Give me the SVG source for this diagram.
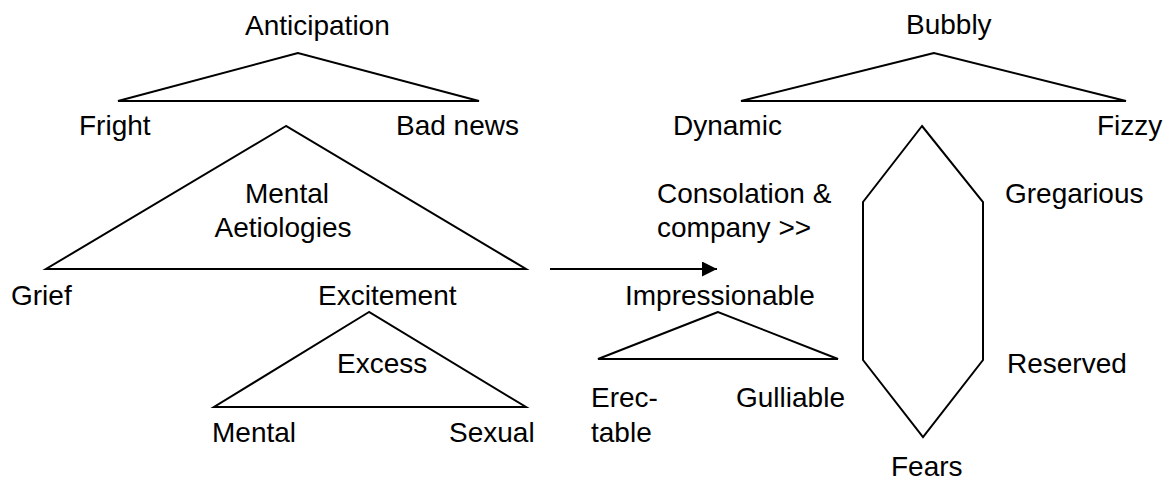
<svg xmlns="http://www.w3.org/2000/svg" width="1170" height="484" viewBox="0 0 1170 484">
<style>
text{font-family:"Liberation Sans",Arial,sans-serif;font-size:28px;fill:#000}
.s{fill:none;stroke:#000;stroke-width:2;stroke-linejoin:miter}
</style>
<defs>
<marker id="ah" viewBox="0 0 15 15" refX="15" refY="7.5" markerWidth="15" markerHeight="15" markerUnits="userSpaceOnUse" orient="auto">
<path d="M0,0 L15,7.5 L0,15 Z" fill="#000"/>
</marker>
</defs>
<rect width="1170" height="484" fill="#fff"/>
<g id="anticipation">
<polygon class="s" points="298,53 118,101 479,101"/>
<text x="245" y="35">Anticipation</text>
<text x="79" y="135">Fright</text>
<text x="396" y="135">Bad news</text>
</g>
<g id="mental-aetiologies">
<polygon class="s" points="286,126 46,269 526,269"/>
<text x="287" y="203" text-anchor="middle">Mental</text>
<text x="283" y="237" text-anchor="middle">Aetiologies</text>
<text x="11" y="305">Grief</text>
<text x="318" y="305">Excitement</text>
</g>
<g id="excess">
<polygon class="s" points="369,312 214,407 526,407"/>
<text x="337" y="373">Excess</text>
<text x="212" y="442">Mental</text>
<text x="449" y="442">Sexual</text>
</g>
<g id="connectors">
<line class="s" x1="550" y1="269" x2="717" y2="269" marker-end="url(#ah)"/>
</g>
<g id="consolation">
<text x="657" y="203">Consolation &amp;</text>
<text x="657" y="237">company &gt;&gt;</text>
</g>
<g id="impressionable">
<polygon class="s" points="718,312 598,359 838,359"/>
<text x="625" y="305">Impressionable</text>
<text x="591" y="407">Erec-</text>
<text x="591" y="442">table</text>
<text x="736" y="407">Gulliable</text>
</g>
<g id="bubbly">
<polygon class="s" points="934,53 741,101 1126,101"/>
<text x="906" y="34">Bubbly</text>
<text x="673" y="135">Dynamic</text>
<text x="1097" y="135">Fizzy</text>
</g>
<g id="gregarious-reserved">
<polygon class="s" points="922,126 983,202 983,360 923,437 863,360 863,202"/>
<text x="1005" y="203">Gregarious</text>
<text x="1007" y="373">Reserved</text>
<text x="891" y="476">Fears</text>
</g>
</svg>
